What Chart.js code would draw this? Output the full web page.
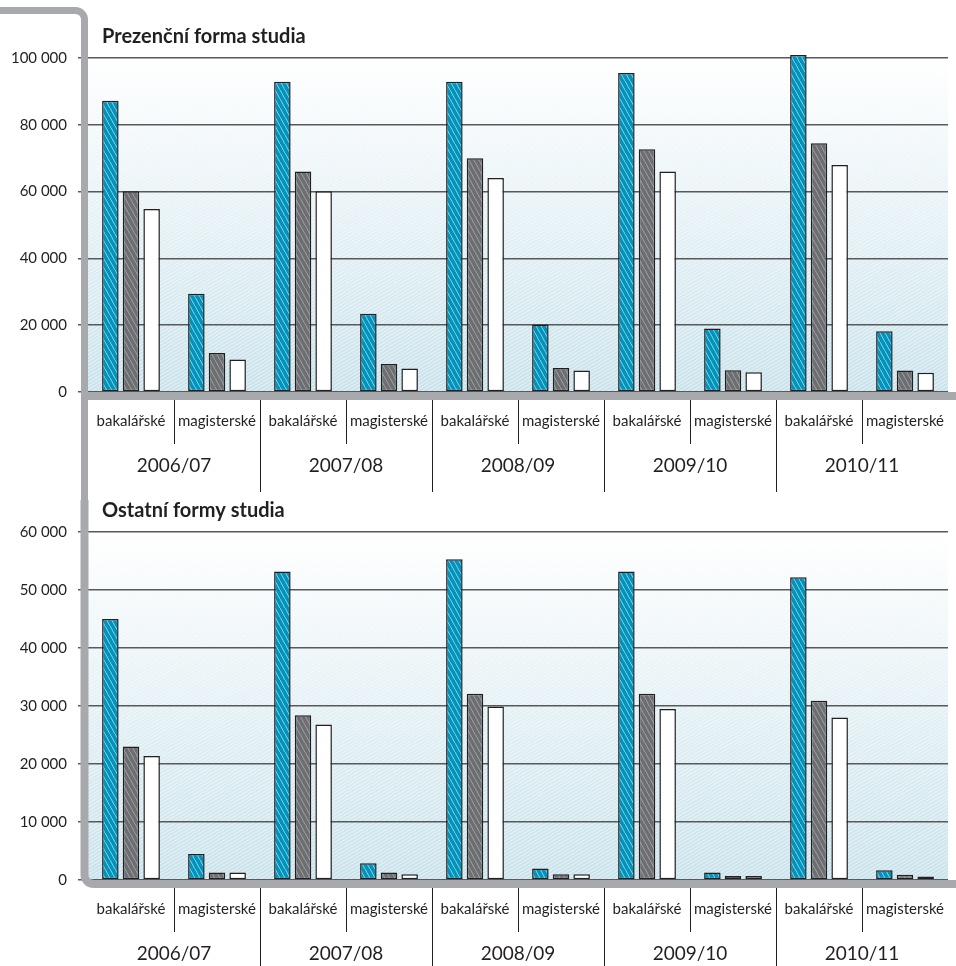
<!DOCTYPE html>
<html lang="cs">
<head>
    <meta charset="UTF-8">
    <title>Prezenční a ostatní formy studia</title>
    <script src="https://cdn.jsdelivr.net/npm/chart.js@4.4.0/dist/chart.umd.min.js"></script>
    <style>
        body { margin: 0; background: #fff; font-family: 'Lato', sans-serif; }
        #wrap { width: 956px; height: 966px; position: relative; overflow: hidden; }
        canvas { display: block; }
    </style>
</head>
<body>
    <div id="wrap">
        <canvas id="topChart" width="956" height="500"></canvas>
        <canvas id="bottomChart" width="956" height="466"></canvas>
    </div>

    <script>
        // Kategorie
        const years = ['2006/07', '2007/08', '2008/09', '2009/10', '2010/11'];
        const levels = ['bakalářské', 'magisterské'];
        const seriesNames = ['Přihlášky', 'Přijatí', 'Zapsaní'];

        // Prezenční forma studia (bak, mag za každý rok)
        const fullTimeBlue  = [87200, 29400, 92900, 23400, 92900, 20200, 95500, 19000, 100900, 18200];
        const fullTimeGray  = [60100, 11700, 66000,  8400, 70000,  7200, 72700,  6500,  74500,  6400];
        const fullTimeWhite = [54800,  9700, 60100,  7000, 64100,  6400, 66000,  5900,  68000,  5800];

        // Ostatní formy studia
        const otherBlue  = [45000, 4500, 53200, 2900, 55300, 2000, 53200, 1300, 52200, 1700];
        const otherGray  = [23000, 1300, 28400, 1300, 32100, 1000, 32100,  700, 30900,  900];
        const otherWhite = [21400, 1300, 26800, 1000, 29900, 1000, 29500,  700, 28000,  600];

        const fullTimeTicks = [0, 20000, 40000, 60000, 80000, 100000];
        const otherTicks = [0, 10000, 20000, 30000, 40000, 50000, 60000];

        const categories = years.flatMap(() => levels);

        const FRAME = '#a7a9ac';
        const INK = '#231f20';

        // šrafované výplně sloupců
        function hatch(color, stroke) {
            const c = document.createElement('canvas');
            c.width = 5; c.height = 9;
            const g = c.getContext('2d');
            g.fillStyle = color;
            g.fillRect(0, 0, 5, 9);
            g.strokeStyle = stroke;
            g.lineWidth = 1;
            g.beginPath();
            g.moveTo(-1, -2); g.lineTo(6, 11);
            g.stroke();
            return g.createPattern(c, 'repeat');
        }
        const blueFill = hatch('#0093bc', 'rgba(255,255,255,0.55)');
        const grayFill = hatch('#6d6e71', 'rgba(255,255,255,0.35)');
        const whiteFill = '#ffffff';

        function fmt(v) {
            return v.toString().replace(/\B(?=(\d{3})+(?!\d))/g, ' ');
        }

        const panelPlugin = {
            id: 'panel',
            beforeDraw(chart, args, opts) {
                const { ctx, chartArea: a } = chart;
                ctx.save();
                const grad = ctx.createLinearGradient(0, a.top, 0, a.bottom);
                grad.addColorStop(0, '#ffffff');
                grad.addColorStop(1, '#c8e2eb');
                ctx.fillStyle = grad;
                ctx.fillRect(a.left, a.top, a.right - a.left, a.bottom - a.top);
                // šrafování pozadí
                ctx.beginPath();
                ctx.rect(a.left, a.top, a.right - a.left, a.bottom - a.top);
                ctx.clip();
                ctx.strokeStyle = 'rgba(255,255,255,0.45)';
                ctx.lineWidth = 1.2;
                const h = a.bottom - a.top;
                for (let x = a.left - h * 1.7; x < a.right; x += 6) {
                    ctx.beginPath();
                    ctx.moveTo(x, a.bottom);
                    ctx.lineTo(x + h * 1.7, a.top);
                    ctx.stroke();
                }
                ctx.restore();
            },
            afterDraw(chart, args, opts) {
                const { ctx, chartArea: a, width, height } = chart;
                const xs = chart.scales.x;
                ctx.save();
                // oddělovače kategorií
                ctx.strokeStyle = INK;
                ctx.lineWidth = 1;
                for (let i = 1; i < categories.length; i++) {
                    const x = Math.round((xs.getPixelForValue(i - 1) + xs.getPixelForValue(i)) / 2) + 0.5;
                    const len = i % 2 === 0 ? opts.yearSep : opts.levelSep;
                    ctx.beginPath();
                    ctx.moveTo(x, a.bottom);
                    ctx.lineTo(x, a.bottom + len);
                    ctx.stroke();
                }
                // šedý rám
                const fx = a.left - 3.5;
                const r = 9;
                ctx.strokeStyle = FRAME;
                ctx.lineWidth = 7;
                ctx.lineCap = 'butt';
                ctx.beginPath();
                if (opts.top) {
                    ctx.moveTo(0, 10.5);
                    ctx.lineTo(fx - r, 10.5);
                    ctx.arcTo(fx, 10.5, fx, 10.5 + r, r);
                    ctx.lineTo(fx, height);
                    ctx.stroke();
                    ctx.fillStyle = FRAME;
                    ctx.fillRect(fx, a.bottom, width - fx, 8);
                } else {
                    ctx.moveTo(fx, 0);
                    ctx.lineTo(fx, a.bottom + 4 - r);
                    ctx.arcTo(fx, a.bottom + 4, fx + r, a.bottom + 4, r);
                    ctx.lineTo(width, a.bottom + 4);
                    ctx.lineWidth = 8;
                    ctx.stroke();
                }
                // nadpis
                ctx.fillStyle = INK;
                ctx.font = 'bold 20px Lato';
                ctx.textBaseline = 'middle';
                ctx.textAlign = 'left';
                ctx.fillText(opts.title, a.left + 14, a.top - 21);
                ctx.restore();
            }
        };

        function makeChart(id, blue, gray, white, ticks, cfg) {
            return new Chart(document.getElementById(id), {
                type: 'bar',
                data: {
                    labels: categories,
                    datasets: [
                        { label: seriesNames[0], data: blue, backgroundColor: blueFill },
                        { label: seriesNames[1], data: gray, backgroundColor: grayFill },
                        { label: seriesNames[2], data: white, backgroundColor: whiteFill }
                    ].map(d => Object.assign(d, {
                        borderColor: INK,
                        borderWidth: 1.5,
                        borderSkipped: false,
                        categoryPercentage: 0.72,
                        barPercentage: 0.8,
                        clip: 10
                    }))
                },
                options: {
                    responsive: false,
                    animation: false,
                    devicePixelRatio: 1,
                    layout: { padding: { top: cfg.padTop, right: 0, left: 0, bottom: 0 } },
                    plugins: {
                        legend: { display: false },
                        tooltip: { enabled: false },
                        panel: { title: cfg.title, top: cfg.top, levelSep: cfg.levelSep, yearSep: cfg.yearSep }
                    },
                    scales: {
                        x: {
                            offset: true,
                            grid: { display: false },
                            border: { display: false },
                            ticks: {
                                autoSkip: false, maxRotation: 0, padding: cfg.labelPad,
                                color: INK, font: { family: 'Lato', size: 15 }
                            },
                            afterFit: s => { s.height = cfg.axis1; }
                        },
                        x2: {
                            type: 'category',
                            labels: years,
                            position: 'bottom',
                            offset: true,
                            grid: { display: false },
                            border: { display: false },
                            ticks: {
                                autoSkip: false, maxRotation: 0, padding: cfg.yearPad,
                                color: INK, font: { family: 'Lato', size: 19 }
                            },
                            afterFit: s => { s.height = cfg.axis2; }
                        },
                        y: {
                            min: 0,
                            max: ticks[ticks.length - 1],
                            afterBuildTicks: s => { s.ticks = ticks.map(v => ({ value: v })); },
                            grid: { color: '#58595b', lineWidth: 1.5, tickLength: 10, drawTicks: true, tickColor: '#58595b' },
                            border: { display: false },
                            ticks: {
                                padding: 11, color: INK,
                                font: { family: 'Lato', size: 15 },
                                callback: v => fmt(v)
                            },
                            afterFit: s => { s.width = 88; }
                        }
                    }
                },
                plugins: [panelPlugin]
            });
        }

        makeChart('topChart', fullTimeBlue, fullTimeGray, fullTimeWhite, fullTimeTicks, {
            title: 'Prezenční forma studia', top: true, padTop: 58,
            axis1: 50, axis2: 58, labelPad: 12, yearPad: 4, levelSep: 52, yearSep: 100
        });
        makeChart('bottomChart', otherBlue, otherGray, otherWhite, otherTicks, {
            title: 'Ostatní formy studia', top: false, padTop: 32,
            axis1: 46, axis2: 40, labelPad: 12, yearPad: 8, levelSep: 52, yearSep: 90
        });
    </script>
</body>
</html>
